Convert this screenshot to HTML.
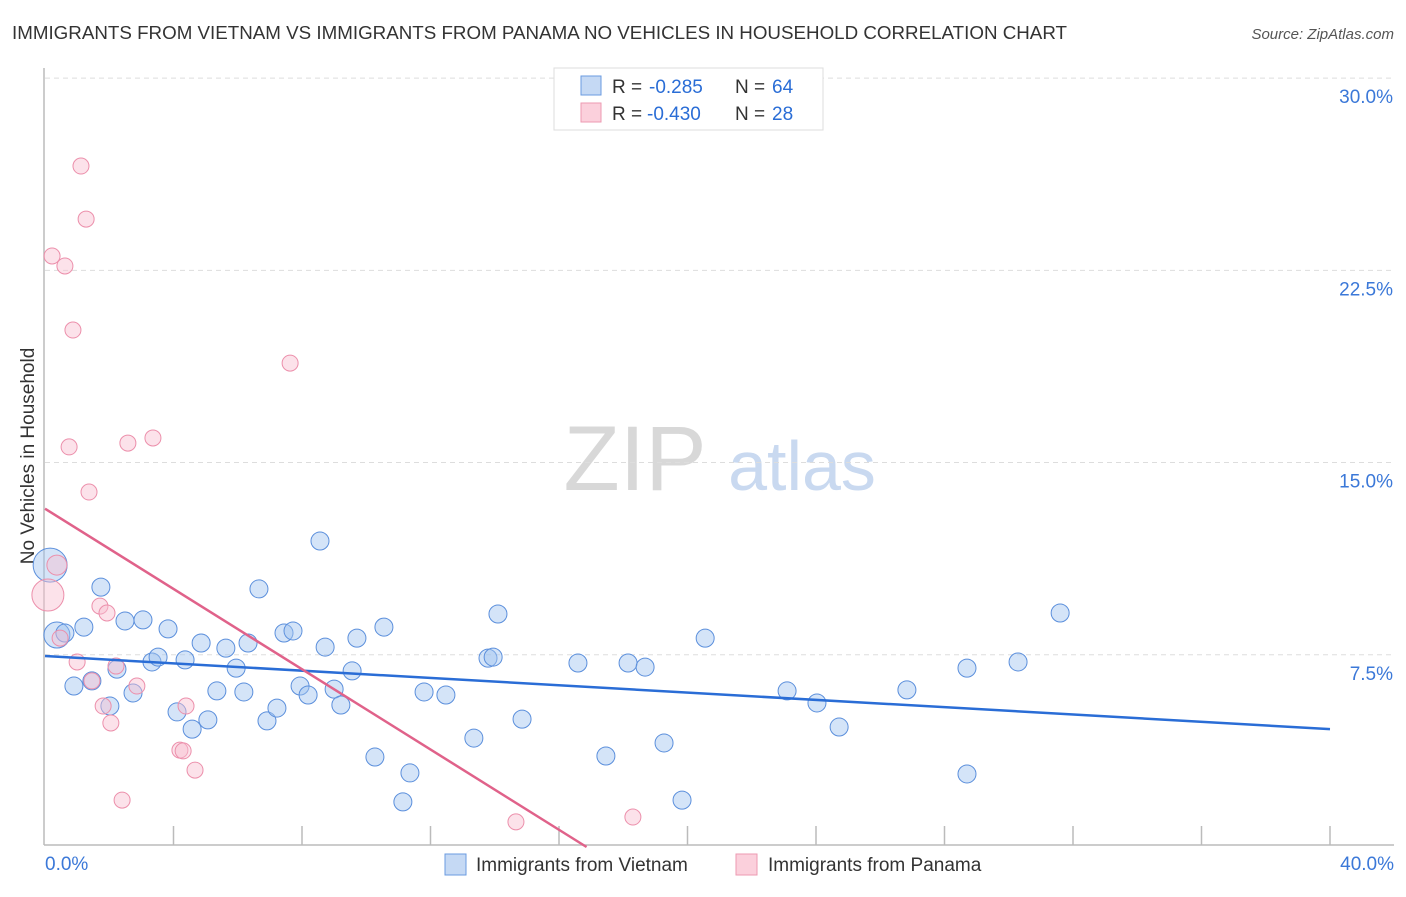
<!DOCTYPE html>
<html><head><meta charset="utf-8"><style>
body{margin:0;background:#fff;font-family:"Liberation Sans",sans-serif}
svg text{font-family:"Liberation Sans",sans-serif}
</style></head><body>
<svg id="chart" width="1406" height="892" xmlns="http://www.w3.org/2000/svg">
<text x="12" y="39" font-size="18.5" fill="#333" textLength="1055" lengthAdjust="spacingAndGlyphs">IMMIGRANTS FROM VIETNAM VS IMMIGRANTS FROM PANAMA NO VEHICLES IN HOUSEHOLD CORRELATION CHART</text>
<text x="1394" y="39" font-size="15" fill="#555" text-anchor="end" font-style="italic">Source: ZipAtlas.com</text>
<text transform="translate(34,456) rotate(-90)" font-size="19" fill="#333" text-anchor="middle">No Vehicles in Household</text>
<g>
<text x="635" y="490" font-size="92" fill="#d8d8d8" text-anchor="middle" font-family="Liberation Serif,serif">ZIP</text>
<text x="802" y="490" font-size="70" fill="#c9d9f0" text-anchor="middle">atlas</text>
</g>
<g id="grid"></g><g id="axes"></g><g id="points"></g><g id="trends"></g>
<g>
<rect x="554" y="68" width="269" height="62" fill="#fff" stroke="#ddd"/>
<rect x="581" y="76" width="20" height="19" fill="#c5d9f4" stroke="#6a9be0"/>
<rect x="581" y="103" width="20" height="19" fill="#fbd0dc" stroke="#ec9ab2"/>
<text x="612" y="93" font-size="19" fill="#333">R =</text>
<text x="649" y="93" font-size="19" fill="#2a6dd6">-0.285</text>
<text x="735" y="93" font-size="19" fill="#333">N =</text>
<text x="772" y="93" font-size="19" fill="#2a6dd6">64</text>
<text x="612" y="120" font-size="19" fill="#333">R =</text>
<text x="647" y="120" font-size="19" fill="#2a6dd6">-0.430</text>
<text x="735" y="120" font-size="19" fill="#333">N =</text>
<text x="772" y="120" font-size="19" fill="#2a6dd6">28</text>
</g>
<g>
<rect x="445" y="854" width="21" height="21" fill="#c5d9f4" stroke="#6a9be0"/>
<text x="476" y="871" font-size="19" fill="#333">Immigrants from Vietnam</text>
<rect x="736" y="854" width="21" height="21" fill="#fbd0dc" stroke="#ec9ab2"/>
<text x="768" y="871" font-size="19" fill="#333">Immigrants from Panama</text>
</g>
</svg>
<script>
const xTicks=[0,4,8,12,16,20,24,28,32,36,40];
const yTicks=[7.5,15,22.5,30];
const yTickLabels=["7.5%","15.0%","22.5%","30.0%"];
const xEndLabels=["0.0%","40.0%"];
const vietX=[0.16,0.37,0.62,0.90,1.21,1.46,1.74,2.02,2.24,2.49,2.74,3.05,3.33,3.52,3.83,4.11,4.36,4.58,4.86,5.07,5.35,5.63,5.95,6.19,6.32,6.66,6.91,7.22,7.44,7.72,7.94,8.19,8.56,8.72,9.00,9.21,9.56,9.71,10.27,10.55,11.14,11.36,11.80,12.48,13.35,13.79,13.95,14.10,14.85,16.59,17.46,18.15,18.68,19.27,19.83,20.55,23.10,24.03,24.72,26.83,28.70,28.70,30.29,31.60];
const vietY=[11.0,8.27,8.35,6.28,8.58,6.48,10.14,5.50,6.94,8.82,6.01,8.86,7.22,7.41,8.51,5.27,7.30,4.60,7.96,4.96,6.09,7.76,6.98,6.05,7.96,10.07,4.92,5.42,8.35,8.43,6.28,5.93,11.94,7.80,6.16,5.54,6.87,8.15,3.51,8.58,1.76,2.89,6.05,5.93,4.25,7.37,7.41,9.09,4.99,7.18,3.55,7.18,7.02,4.06,1.83,8.15,6.09,5.62,4.68,6.13,6.98,2.85,7.22,9.13];
const panX=[0.09,0.22,0.37,0.47,0.62,0.75,0.87,1.00,1.12,1.28,1.37,1.46,1.71,1.81,1.93,2.05,2.21,2.40,2.58,2.86,3.36,4.20,4.30,4.39,4.67,7.63,14.66,18.30];
const panY=[9.83,23.06,11.0,8.15,22.67,15.61,20.17,7.22,26.57,24.50,13.85,6.48,9.40,5.50,9.13,4.84,7.06,1.83,15.76,6.28,15.96,3.78,3.75,5.50,3.00,18.88,0.98,1.17];
const vietTrend=[7.45,4.6];
const panTrend=[13.2,-0.783];
const X=v=>45+v*32.125, Y=v=>847-v*25.63;
const NS="http://www.w3.org/2000/svg";
function mk(t,a,p){const e=document.createElementNS(NS,t);for(const k in a)e.setAttribute(k,a[k]);p.appendChild(e);return e;}
const grid=document.getElementById('grid'),axes=document.getElementById('axes');
yTicks.forEach((t,i)=>{
 const g=mk('line',{x1:45,x2:1394,y1:Y(t),y2:Y(t),stroke:'#ddd','stroke-dasharray':'5,4'},grid);
 
 
 const l=mk('text',{x:1393,y:Y(t)+25,'font-size':19,fill:'#3b78d8','text-anchor':'end'},axes);
 l.textContent=yTickLabels[i];
 
 
});
const ax=mk('line',{x1:44,x2:1394,y1:845,y2:845,stroke:'#bbb','stroke-width':1.5},axes);


const ay=mk('line',{x1:44,x2:44,y1:68,y2:845,stroke:'#bbb','stroke-width':1.5},axes);


xTicks.forEach(t=>{if(t===0)return;
 const k=mk('line',{x1:X(t),x2:X(t),y1:826,y2:845,stroke:'#bbb','stroke-width':1.5},axes);
 
 
});
[[0,'start',45],[40,'end',1394]].forEach((d,i)=>{
 const l=mk('text',{x:d[2],y:870,'font-size':19,fill:'#3b78d8','text-anchor':d[1]},axes);
 l.textContent=xEndLabels[i];
 
 
});
const pts=document.getElementById('points');
vietX.forEach((x,i)=>{
 const r=i===0?17:(i===1?13:9);
 const c=mk('circle',{cx:X(x),cy:Y(vietY[i]),r:r,fill:'rgba(160,195,240,0.45)',stroke:'#5b8fdc','stroke-width':1},pts);
 
 
});
panX.forEach((x,i)=>{
 const r=i===0?16:(i===2?10:8);
 const c=mk('circle',{cx:X(x),cy:Y(panY[i]),r:r,fill:'rgba(248,190,208,0.45)',stroke:'#ec8fab','stroke-width':1},pts);
 
 
});
const tr=document.getElementById('trends');
const bl=mk('line',{x1:X(0),y1:Y(vietTrend[0]),x2:X(40),y2:Y(vietTrend[1]),stroke:'#2a6dd6','stroke-width':2.5},tr);


const xe=-panTrend[0]/panTrend[1];
const pl=mk('line',{x1:X(0),y1:Y(panTrend[0]),x2:X(xe),y2:Y(0),stroke:'#e0628a','stroke-width':2.5},tr);


</script>
</body></html>
